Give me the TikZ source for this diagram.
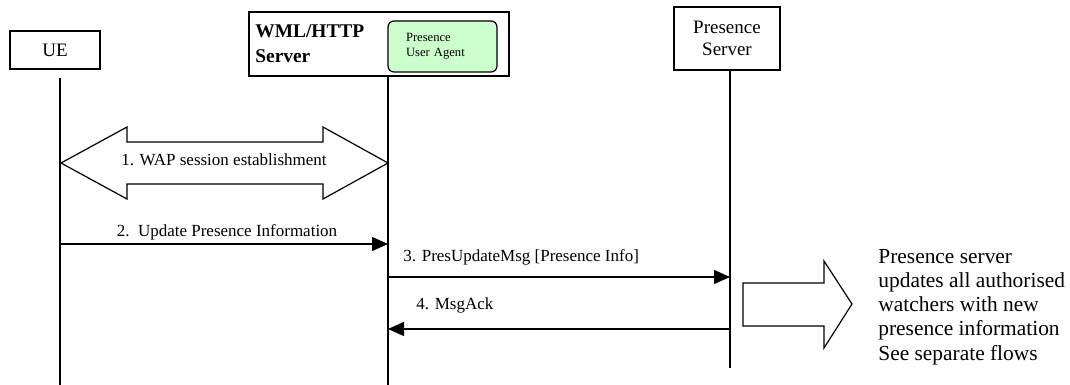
\documentclass[tikz,border=0pt]{standalone}
\usepackage{fontspec}
\setmainfont{Liberation Serif}
\usepackage{xcolor}
\usetikzlibrary{arrows.meta,positioning}
\definecolor{puagreen}{HTML}{CCFFCC}

\begin{document}
\begin{tikzpicture}[x=0.5pt, y=-0.5pt,
        entity/.style={draw=black, line width=0.75pt, align=center, inner sep=0pt, font=\fontsize{9.5}{11}\selectfont},
        agent/.style={draw=black, fill=puagreen, rounded corners=3pt, line width=0.6pt, minimum width=54.5pt, minimum height=25.5pt, text width=36.5pt, inner xsep=9pt, inner ysep=0pt, align=left, font=\fontsize{6.3}{7.5}\selectfont},
        lifeline/.style={line width=0.65pt},
        msg/.style={line width=0.65pt, -{Triangle[length=8pt, width=7pt]}},
        msglabel/.style={font=\fontsize{8.5}{10}\selectfont, inner sep=0pt},
        bigarrow/.style={draw=black, line width=0.6pt, fill=white}
    ]
        \useasboundingbox (0,0) rectangle (1070,385);

        % Entities
        \node[entity, minimum width=45pt, minimum height=19pt] (ue) at (55,50) {UE};
        \node[entity, minimum width=130pt, minimum height=32pt] (wml) at (379,44) {};
        \node[font=\fontsize{9.7}{12.5}\selectfont\bfseries, align=left, anchor=west, inner sep=0pt] (wmltext) at (255,44) {WML/HTTP\\Server};
        \node[agent] (pua) at (442.5,46.5) {Presence\\User Agent};
        \node[entity, minimum width=53pt, minimum height=31.5pt] (ps) at (727,38.5) {Presence\\Server};

        % Lifelines
        \coordinate (ue-top) at (60,78);
        \coordinate (ue-end) at (60,385);
        \coordinate (wml-top) at (388,77);
        \coordinate (wml-end) at (388,385);
        \coordinate (ps-top) at (730,70);
        \coordinate (ps-end) at (730,368);
        \draw[lifeline] (ue-top) -- (ue-end);
        \draw[lifeline] (wml-top) -- (wml-end);
        \draw[lifeline] (ps-top) -- (ps-end);

        % 1. session
        \draw[bigarrow] (61,163) -- (127,127) -- (127,142) -- (323,142) -- (323,127) -- (388,163) -- (323,199) -- (323,184) -- (127,184) -- (127,199) -- cycle;
        \node[msglabel] (wap) at (224,160) {1. WAP session establishment};

        % Messages
        \draw[msg] (ue-top |- 0,244) -- (wml-top |- 0,244);
        \node[msglabel] (l2) at (227,232) {2.\ \ Update Presence Information};
        \draw[msg] (wml-top |- 0,277) -- (ps-top |- 0,277);
        \node[msglabel, anchor=west] (l3) at (403,257) {3. PresUpdateMsg [Presence Info]};
        \draw[msg] (ps-top |- 0,329) -- (wml-top |- 0,329);
        \node[msglabel, anchor=west] (l4) at (416,305) {4. MsgAck};

        % Result
        \draw[bigarrow] (743,283) -- (824,283) -- (824,261) -- (852,304) -- (824,348) -- (824,326) -- (743,326) -- cycle;
        \node[font=\fontsize{10.7}{12.1}\selectfont, align=left, anchor=west, inner sep=0pt] (note) at (878,307) {Presence server\\updates all authorised\\watchers with new\\presence information\\See separate flows};
    \end{tikzpicture}
\end{document}
